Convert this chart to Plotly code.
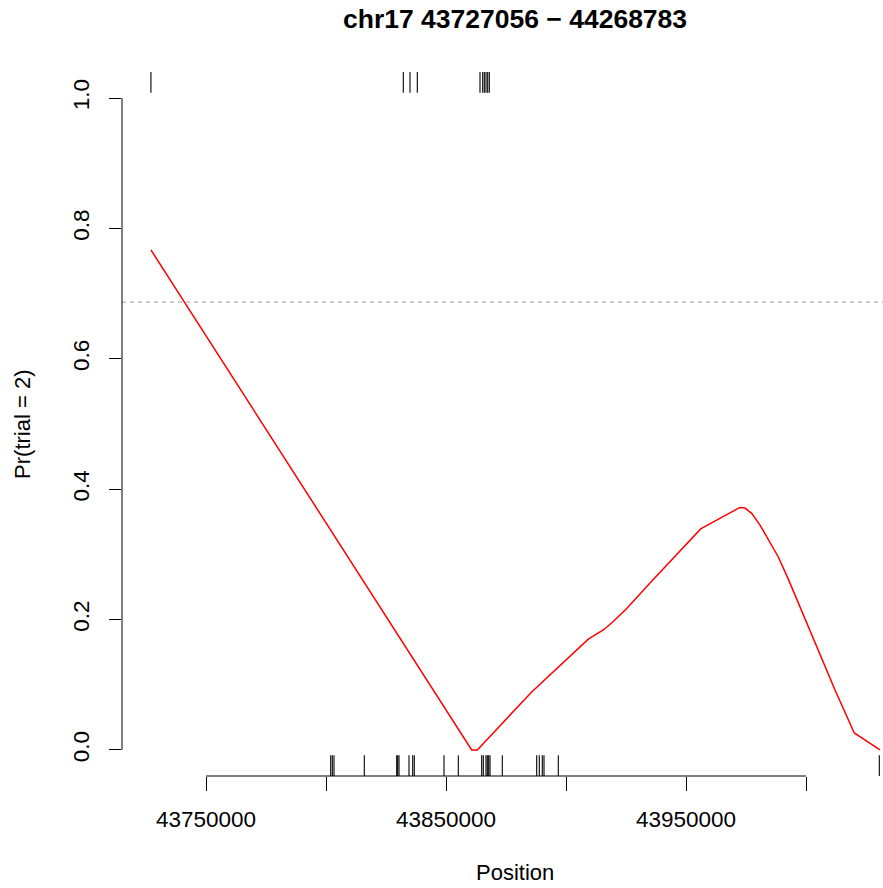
import plotly.graph_objects as go

# Posterior probability curve along the region
curve_pos = [43727056, 43860708, 43863042, 43878750, 43885708, 43909292, 43912792,
             43915542, 43919708, 43925292, 43935000, 43947500, 43956125, 43972500,
             43974583, 43977375, 43980833, 43988458, 43992625, 44012083, 44020125,
             44030833]
curve_prob = [0.767, 0.0, 0.0, 0.061, 0.089, 0.170, 0.178,
              0.184, 0.197, 0.217, 0.256, 0.306, 0.339, 0.372,
              0.371, 0.363, 0.345, 0.296, 0.262, 0.092, 0.026,
              0.0]

# Marker positions shown as rugs
bottom_rug = [43801958, 43802625, 43803333, 43815958, 43829458, 43829875, 43830417,
              43834583, 43836125, 43836792, 43849167, 43855125, 43864875, 43865542,
              43866667, 43867208, 43867792, 43868333, 43873458, 43887792, 43888875,
              43890125, 43890833, 43896792, 44030542]
top_rug = [43727056, 43832208, 43835000, 43838042, 43864167, 43865292, 43865958,
           43866667, 43867375, 43868042]

threshold = 0.687

x_ticks = [43750000, 43800000, 43850000, 43900000, 43950000, 44000000]
x_labels = ["43750000", "", "43850000", "", "43950000", ""]
y_ticks = [0.0, 0.2, 0.4, 0.6, 0.8, 1.0]
y_labels = ["0.0", "0.2", "0.4", "0.6", "0.8", "1.0"]

title = "chr17 43727056 \u2212 44268783"
x_title = "Position"
y_title = "Pr(trial = 2)"

Y_LO, Y_HI = -0.04, 1.04
RUG = 0.032
FONT = "Liberation Sans, Arial, Helvetica, sans-serif"


def rug_segments(positions, y0, y1):
    xs, ys = [], []
    for p in positions:
        xs += [p, p, None]
        ys += [y0, y1, None]
    return xs, ys


fig = go.Figure()

bx, by = rug_segments(bottom_rug, Y_LO, Y_LO + RUG)
fig.add_trace(go.Scatter(x=bx, y=by, mode="lines", line=dict(color="black", width=1.1),
                         hoverinfo="skip", showlegend=False, cliponaxis=False))
tx, ty = rug_segments(top_rug, Y_HI, Y_HI - RUG)
fig.add_trace(go.Scatter(x=tx, y=ty, mode="lines", line=dict(color="black", width=1.1),
                         hoverinfo="skip", showlegend=False, cliponaxis=False))

fig.add_trace(go.Scatter(x=curve_pos, y=curve_prob, mode="lines",
                         line=dict(color="#ff0000", width=1.5),
                         showlegend=False))

# threshold line
fig.add_shape(type="line", xref="paper", x0=0, x1=1, yref="y", y0=threshold, y1=threshold,
              line=dict(color="#9a9a9a", width=1, dash="4px,4px"))
# axis lines spanning first to last tick
fig.add_shape(type="line", xref="x", x0=x_ticks[0], x1=x_ticks[-1], yref="paper", y0=0, y1=0,
              line=dict(color="black", width=1))
fig.add_shape(type="line", xref="paper", x0=0, x1=0, yref="y", y0=y_ticks[0], y1=y_ticks[-1],
              line=dict(color="black", width=1))

fig.update_xaxes(range=[43715000, 44032083], showgrid=False, zeroline=False, showline=False,
                 tickmode="array", tickvals=x_ticks, ticktext=x_labels,
                 ticks="outside", ticklen=14, tickcolor="black", tickwidth=1,
                 tickfont=dict(family=FONT, size=22.5, color="black"), ticklabelstandoff=9)
fig.update_yaxes(range=[Y_LO, Y_HI], showgrid=False, zeroline=False, showline=False,
                 tickmode="array", tickvals=y_ticks, ticktext=y_labels, tickangle=-90,
                 ticks="outside", ticklen=12, tickcolor="black", tickwidth=1,
                 tickfont=dict(family=FONT, size=22.5, color="black"), ticklabelstandoff=11)

fig.add_annotation(text="<b>" + title + "</b>", xref="paper", yref="paper",
                   x=0.517, y=1.0753, xanchor="center", yanchor="middle", showarrow=False,
                   font=dict(family=FONT, size=26.5, color="black"))
fig.add_annotation(text=x_title, xref="paper", yref="paper",
                   x=0.517, y=-0.1364, xanchor="center", yanchor="middle", showarrow=False,
                   font=dict(family=FONT, size=22, color="black"))
fig.add_annotation(text=y_title, xref="paper", yref="paper", textangle=-90,
                   x=-0.1315, y=0.5, xanchor="center", yanchor="middle", showarrow=False,
                   font=dict(family=FONT, size=22, color="black"))

fig.update_layout(width=883, height=888, margin=dict(l=122, r=0, t=72, b=112),
                  plot_bgcolor="white", paper_bgcolor="white")

fig.write_html("out.html")
